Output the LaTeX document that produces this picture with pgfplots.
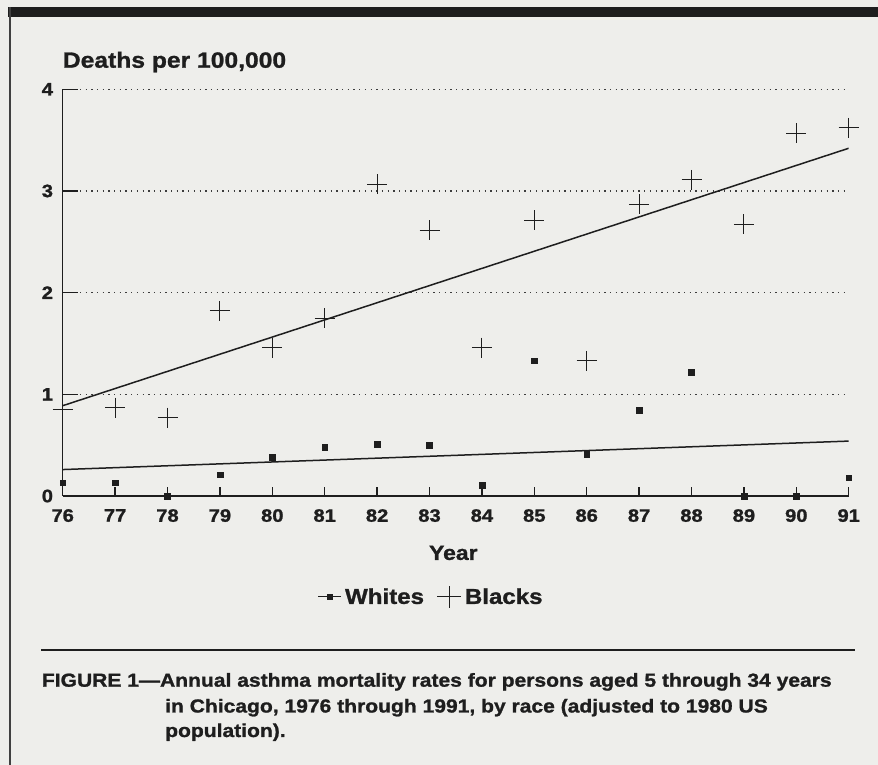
\documentclass[border=0pt]{standalone}
\usepackage{pgfplots}
\pgfplotsset{compat=1.18}
\usepackage{fontspec}
\setmainfont{Liberation Sans}[FakeStretch=1.12, BoldFeatures={FakeBold=1.2}]
\definecolor{paper}{RGB}{238,238,235}
\definecolor{ink}{RGB}{30,30,30}
\definecolor{gridc}{RGB}{60,60,60}
\newcommand{\fs}[1]{\fontsize{#1}{#1}\selectfont}
\begin{document}
\begin{tikzpicture}[x=1pt,y=1pt]
\fill[paper] (0,0) rectangle (878,765);
\fill[ink] (8.3,748.3) rectangle (878,758.3);
\draw[ink!85, line width=2pt] (9.5,758) -- (9.5,0);
\draw[ink, line width=1.3pt] (41,115) -- (855,115);
\node[anchor=base west, inner sep=0pt, text=ink, font=\bfseries\fs{22}] at (62.7,697.3) {Deaths per 100,000};
\node[anchor=base west, inner sep=0pt, text=ink, font=\bfseries\fs{18.8}] at (41.7,78.3) {FIGURE 1—Annual asthma mortality rates for persons aged 5 through 34 years};
\node[anchor=base west, inner sep=0pt, text=ink, font=\bfseries\fs{18.8}] at (165,52.5) {in Chicago, 1976 through 1991, by race (adjusted to 1980 US};
\node[anchor=base west, inner sep=0pt, text=ink, font=\bfseries\fs{18.8}] at (165,28) {population).};
\begin{axis}[
  at={(62.7pt,269pt)}, anchor=south west, scale only axis,
  width=786pt, height=406.7pt,
  xmin=76, xmax=91, ymin=0, ymax=4,
  axis lines=left, axis line style={-, ink, line width=1.5pt},
  xtick={76,...,91}, ytick={0,...,4},
  tick align=inside,
  major tick length=9.3pt,
  tick style={ink, line width=1.3pt},
  ymajorgrids, grid style={gridc, line width=1.3pt, dash pattern=on 1.3pt off 4.4pt},
  /pgf/number format/assume math mode=true,
  ticklabel style={font=\bfseries\fs{18}, text=ink, inner sep=0pt},
  xticklabel style={yshift=-13pt},
  yticklabel style={xshift=-9.5pt},
  xlabel={Year},
  xlabel style={font=\bfseries\fs{20.5}, text=ink, at={(axis description cs:0.497,-0.14)}, anchor=center},
  legend columns=2,
  legend style={at={(axis description cs:0.4695,-0.248)}, anchor=center, draw=none, fill=none,
    font=\bfseries\fs{21.5}, text=ink, nodes={inner sep=3pt},
    /tikz/every even column/.append style={column sep=10pt}},
  legend cell align=left,
]
\addplot[only marks, mark=square*, mark size=2.9pt, ink,
  legend image code/.code={\draw[ink,line width=1.2pt] (0pt,0pt)--(23pt,0pt); \fill[ink] (11pt,0pt) ++(-2.6pt,-2.6pt) rectangle ++(5.2pt,5.2pt);}]
  coordinates {(76,0.13)(77,0.13)(78,0.0)(79,0.21)(80,0.38)(81,0.48)(82,0.51)(83,0.50)(84,0.11)(85,1.33)(86,0.41)(87,0.845)(88,1.22)(89,0.0)(90,0.0)(91,0.18)};
\addlegendentry{Whites}
\addplot[only marks, mark=+, mark size=10pt, ink, line width=0.9pt,
  legend image code/.code={\draw[ink,line width=0.9pt] (12pt,-11pt)--(12pt,11pt) (0pt,0pt)--(24pt,0pt);}]
  coordinates {(76,0.85)(77,0.87)(78,0.77)(79,1.82)(80,1.46)(81,1.75)(82,3.065)(83,2.615)(84,1.46)(85,2.71)(86,1.33)(87,2.87)(88,3.11)(89,2.675)(90,3.57)(91,3.62)};
\addlegendentry{Blacks}
\addplot[ink, line width=1.5pt, forget plot] coordinates {(76,0.26) (91,0.54)};
\addplot[ink, line width=1.5pt, forget plot] coordinates {(76,0.888) (91,3.42)};
% longer solid y-tick segments
\addplot[ink, line width=1.3pt, forget plot] coordinates {(76,1) (76.3,1)};
\addplot[ink, line width=1.3pt, forget plot] coordinates {(76,2) (76.3,2)};
\addplot[ink, line width=1.3pt, forget plot] coordinates {(76,3) (76.3,3)};
\addplot[ink, line width=1.3pt, forget plot] coordinates {(76,4) (76.3,4)};
\end{axis}
\pgfresetboundingbox
\useasboundingbox (0,0) rectangle (878,765);
\end{tikzpicture}
\end{document}
